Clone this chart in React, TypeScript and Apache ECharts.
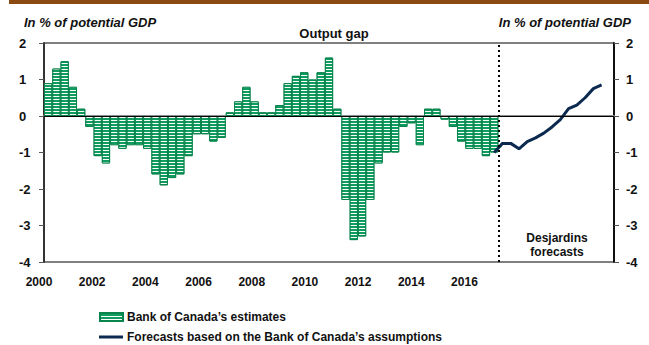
import React, { useEffect, useRef } from "react";
import * as echarts from "echarts";

// Quarterly categories 2000Q1 .. 2017Q1
const startYear = 2000;
const quarterCount = 69;
const categories: string[] = Array.from({ length: quarterCount }, (_, i) => `${startYear + Math.floor(i / 4)}Q${(i % 4) + 1}`);

// Bank of Canada's estimates of the output gap (2000Q1 .. 2013Q3)
const estimates: number[] = [
  0.9, 1.3, 1.5, 0.8,
  0.2, -0.3, -1.1, -1.3,
  -0.8, -0.9, -0.8, -0.8,
  -0.9, -1.6, -1.9, -1.7,
  -1.6, -1.1, -0.5, -0.5,
  -0.7, -0.6, 0.1, 0.4,
  0.8, 0.4, 0.1, 0.1,
  0.3, 0.9, 1.1, 1.2,
  1.0, 1.2, 1.6, 0.2,
  -2.3, -3.4, -3.3, -2.3,
  -1.3, -1.0, -1.0, -0.3,
  -0.2, -0.8, 0.2, 0.2,
  -0.1, -0.3, -0.7, -0.9,
  -0.9, -1.1, -1.0,
];

// Forecasts (2013Q3 .. 2016Q4)
const forecastStartIndex = 54;
const forecasts: number[] = [-1.0, -0.75, -0.75, -0.9, -0.7, -0.6, -0.47, -0.3, -0.1, 0.2, 0.3, 0.5, 0.75, 0.85];

// Year tick labels
const yearLabels: number[] = [2000, 2002, 2004, 2006, 2008, 2010, 2012, 2014, 2016];

const forecastBoundary = 55; // quarter index where forecasts begin (dotted line)

const BAR_NAME = "Bank of Canada’s estimates";
const LINE_NAME = "Forecasts based on the Bank of Canada’s assumptions";

const FONT = "'Liberation Sans', Arial, sans-serif";

export default function App() {
  const ref = useRef<HTMLDivElement>(null);
  useEffect(() => {
    if (!ref.current) return;
    const chart = echarts.init(ref.current, undefined, { renderer: "svg" });
    const barData = categories.map((_, i) => (i < estimates.length ? estimates[i] : null));
    const lineData = categories.map((_, i) => {
      const k = i - forecastStartIndex;
      return k >= 0 && k < forecasts.length ? forecasts[k] : null;
    });
    const legendText = { fontSize: 12, fontWeight: "bold", color: "#111", fontFamily: FONT, padding: [0, 0, 0, -1] };
    const option: any = {
      animation: false,
      backgroundColor: "#fff",
      textStyle: { fontFamily: FONT },
      title: [
        { text: "In % of potential GDP", left: 19, top: 11, textStyle: { fontSize: 13, fontWeight: "bold", fontStyle: "italic", color: "#111", fontFamily: FONT } },
        { text: "In % of potential GDP", right: 13, top: 11, textStyle: { fontSize: 13, fontWeight: "bold", fontStyle: "italic", color: "#111", fontFamily: FONT } },
        { text: "Output gap", left: 329, textAlign: "center", top: 22, textStyle: { fontSize: 13, fontWeight: "bold", color: "#111", fontFamily: FONT } },
      ],
      graphic: [
        { type: "rect", shape: { x: 9, y: 0, width: 640, height: 4 }, style: { fill: "#8a4a12" } },
        { type: "text", x: 557, y: 231, style: { text: "Desjardins\nforecasts", textAlign: "center", font: `bold 12px ${FONT}`, fill: "#111", lineHeight: 14 } },
      ],
      legend: [
        {
          left: 99,
          top: 311,
          padding: 0,
          itemWidth: 23,
          itemHeight: 8,
          textStyle: legendText,
          data: [{ name: BAR_NAME, icon: "rect" }],
        },
        {
          left: 99,
          top: 331,
          padding: 0,
          itemWidth: 24,
          itemHeight: 3,
          textStyle: legendText,
          data: [{ name: LINE_NAME, icon: "rect" }],
        },
      ],
      grid: [
        { left: 44, right: 35, top: 43, bottom: 83, show: true, borderColor: "#000", borderWidth: 1 },
        { left: 39, right: 25, top: 43, bottom: 83, show: false },
      ],
      xAxis: [
        {
          type: "category",
          gridIndex: 0,
          data: categories,
          boundaryGap: true,
          axisLine: { show: true, lineStyle: { color: "#8c8c8c", width: 2 } },
          axisTick: { show: false },
          axisLabel: { show: false },
          splitLine: { show: false },
        },
        {
          type: "value",
          gridIndex: 0,
          min: 0,
          max: quarterCount,
          show: false,
        },
        {
          type: "value",
          gridIndex: 1,
          min: 2000,
          max: 2022,
          interval: 2,
          axisLine: { show: false },
          axisTick: { show: false },
          splitLine: { show: false },
          axisLabel: {
            margin: 14,
            fontSize: 12,
            fontWeight: "bold",
            color: "#111",
            fontFamily: FONT,
            formatter: (v: number) => (yearLabels.includes(v) ? String(v) : ""),
          },
        },
      ],
      yAxis: [
        {
          type: "value",
          gridIndex: 0,
          min: -4,
          max: 2,
          interval: 1,
          position: "left",
          axisLine: { show: true, lineStyle: { color: "#333", width: 2 } },
          axisTick: { show: true, length: 5, lineStyle: { color: "#555" } },
          splitLine: { show: false },
          axisLabel: { align: "left", margin: 25, fontSize: 13, fontWeight: "bold", color: "#111", fontFamily: FONT },
        },
        {
          type: "value",
          gridIndex: 0,
          min: -4,
          max: 2,
          interval: 1,
          position: "right",
          axisLine: { show: true, lineStyle: { color: "#111", width: 2 } },
          axisTick: { show: true, length: 5, lineStyle: { color: "#555" } },
          splitLine: { show: false },
          axisLabel: { align: "left", margin: 12, fontSize: 13, fontWeight: "bold", color: "#111", fontFamily: FONT },
        },
        { type: "value", gridIndex: 1, show: false, min: 0, max: 1 },
      ],
      series: [
        {
          name: BAR_NAME,
          type: "bar",
          xAxisIndex: 0,
          yAxisIndex: 0,
          data: barData,
          barCategoryGap: "0%",
          itemStyle: {
            color: "#0f9d5f",
            borderColor: "#08844c",
            borderWidth: 1,
            decal: { symbol: "rect", color: "#ffffff", dashArrayX: [1, 0], dashArrayY: [1, 2], symbolSize: 1, rotation: 0 },
          },
          markLine: {
            silent: true,
            symbol: "none",
            label: { show: false },
            lineStyle: { color: "#000", width: 1, type: "solid" },
            data: [{ yAxis: 0 }],
          },
        },
        {
          name: LINE_NAME,
          type: "line",
          xAxisIndex: 0,
          yAxisIndex: 0,
          data: lineData,
          symbol: "none",
          lineStyle: { color: "#0c2a50", width: 3 },
          itemStyle: { color: "#0c2a50" },
        },
        {
          type: "line",
          xAxisIndex: 1,
          yAxisIndex: 0,
          data: [],
          markLine: {
            silent: true,
            symbol: "none",
            label: { show: false },
            lineStyle: { color: "#000", width: 2, type: [2, 3] },
            data: [{ xAxis: forecastBoundary }],
          },
        },
      ],
    };
    chart.setOption(option);
    return () => chart.dispose();
  }, []);
  return <div ref={ref} style={{ position: "absolute", left: 0, top: 0, width: 649, height: 345 }} />;
}
